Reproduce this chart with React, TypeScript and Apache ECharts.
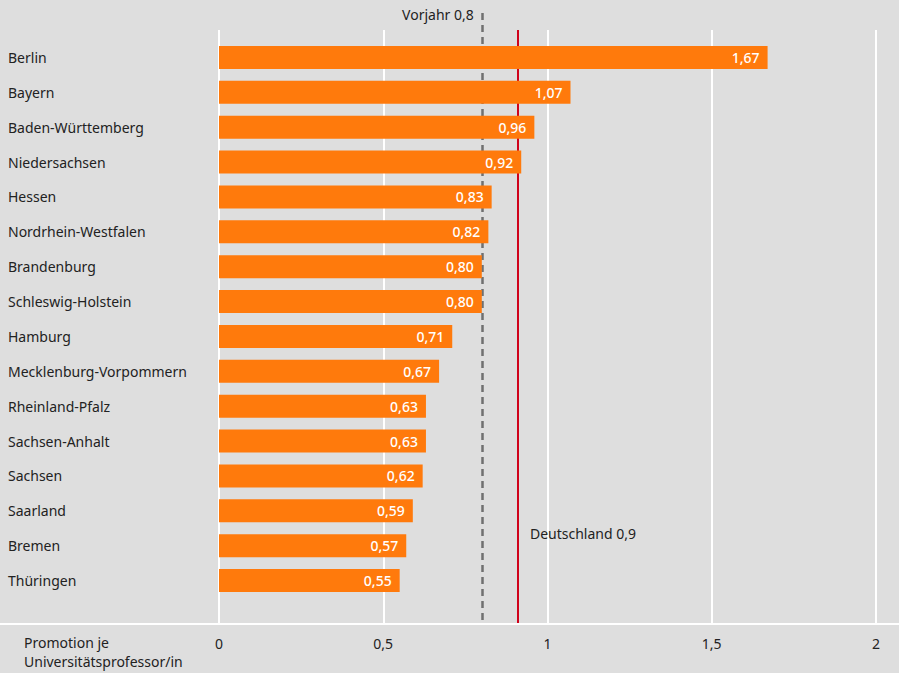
import React, { useEffect, useRef } from "react";
import * as echarts from "echarts";

const states = [
  "Berlin",
  "Bayern",
  "Baden-Württemberg",
  "Niedersachsen",
  "Hessen",
  "Nordrhein-Westfalen",
  "Brandenburg",
  "Schleswig-Holstein",
  "Hamburg",
  "Mecklenburg-Vorpommern",
  "Rheinland-Pfalz",
  "Sachsen-Anhalt",
  "Sachsen",
  "Saarland",
  "Bremen",
  "Thüringen",
];
const values = [1.67, 1.07, 0.96, 0.92, 0.83, 0.82, 0.8, 0.8, 0.71, 0.67, 0.63, 0.63, 0.62, 0.59, 0.57, 0.55];
const xTicks = [0, 0.5, 1, 1.5, 2];
const germanyValue = 0.907;
const germanyLabel = "Deutschland 0,9";
const previousYear = 0.803;
const previousLabel = "Vorjahr 0,8";
const axisTitle = ["Promotion je", "Universitätsprofessor/in"];

const FONT = "'Noto Sans', 'Open Sans', sans-serif";
const fmt = (v: number) => String(v).replace(".", ",");

export default function App() {
  const ref = useRef<HTMLDivElement>(null);
  useEffect(() => {
    if (!ref.current) return;
    const chart = echarts.init(ref.current, null, { renderer: "svg" });
    const xBase = { type: "value", min: xTicks[0], max: xTicks[xTicks.length - 1], interval: 0.5 };
    chart.setOption({
      animation: false,
      backgroundColor: "#dedede",
      textStyle: { fontFamily: FONT },
      grid: [
        { left: 219, right: 23, top: 30, bottom: 50 },
        { left: 219, right: 23, top: 40, bottom: 75 },
        { left: 219, right: 23, top: 8, bottom: 53 },
      ],
      xAxis: [
        {
          ...xBase,
          gridIndex: 0,
          axisLine: { show: false },
          axisTick: { show: false },
          splitLine: { show: true, lineStyle: { color: "#ffffff", width: 2 } },
          axisLabel: {
            margin: 13,
            color: "#222",
            fontSize: 14,
            fontFamily: FONT,
            formatter: (v: number) => fmt(v),
          },
        },
        { ...xBase, gridIndex: 1, show: false },
        { ...xBase, gridIndex: 2, show: false },
      ],
      yAxis: [
        { type: "value", gridIndex: 0, min: 0, max: 1, show: false },
        {
          type: "category",
          gridIndex: 1,
          data: states,
          inverse: true,
          axisLine: { show: false },
          axisTick: { show: false },
          axisLabel: {
            align: "left",
            margin: 211,
            color: "#222",
            fontSize: 14,
            fontFamily: FONT,
          },
        },
        { type: "value", gridIndex: 2, min: 0, max: 1, show: false },
      ],
      series: [
        {
          type: "line",
          xAxisIndex: 0,
          yAxisIndex: 0,
          data: [],
          z: 1,
          markLine: {
            z: 1,
            symbol: "none",
            silent: true,
            label: { show: false },
            lineStyle: { color: "#d0021b", width: 2, type: "solid" },
            data: [{ xAxis: germanyValue }],
          },
        },
        {
          type: "line",
          xAxisIndex: 2,
          yAxisIndex: 2,
          data: [],
          z: 1,
          markLine: {
            z: 1,
            symbol: "none",
            silent: true,
            label: { show: false },
            lineStyle: { color: "#707070", width: 2.5, type: [7, 5] },
            data: [{ xAxis: previousYear }],
          },
        },
        {
          type: "bar",
          xAxisIndex: 1,
          yAxisIndex: 1,
          data: values,
          barCategoryGap: "34%",
          itemStyle: { color: "#ff7a0c" },
          label: {
            show: true,
            position: "insideRight",
            distance: 8,
            color: "#ffffff",
            fontSize: 14,
            fontWeight: 500,
            fontFamily: FONT,
            formatter: (p: any) => p.value.toFixed(2).replace(".", ","),
          },
          z: 10,
        },
      ],
    });
    const gx = chart.convertToPixel({ xAxisIndex: 0 }, germanyValue) as number;
    const px = chart.convertToPixel({ xAxisIndex: 0 }, previousYear) as number;
    chart.setOption({
      graphic: [
        {
          type: "rect",
          shape: { x: 0, y: 623, width: 899, height: 2 },
          style: { fill: "#ffffff" },
          silent: true,
        },
        {
          type: "text",
          x: px - 9,
          y: 14,
          style: {
            text: previousLabel,
            fill: "#222",
            font: `14px ${FONT}`,
            align: "right",
            verticalAlign: "middle",
          },
        },
        {
          type: "text",
          x: gx + 13,
          y: 533,
          style: {
            text: germanyLabel,
            fill: "#222",
            font: `14px ${FONT}`,
            align: "left",
            verticalAlign: "middle",
          },
        },
        {
          type: "text",
          x: 24,
          y: 633,
          style: {
            text: axisTitle.join("\n"),
            fill: "#222",
            font: `14px ${FONT}`,
            lineHeight: 19,
            align: "left",
            verticalAlign: "top",
          },
        },
      ],
    });
    return () => chart.dispose();
  }, []);
  return <div ref={ref} style={{ width: 899, height: 673, position: "absolute", left: 0, top: 0 }} />;
}
